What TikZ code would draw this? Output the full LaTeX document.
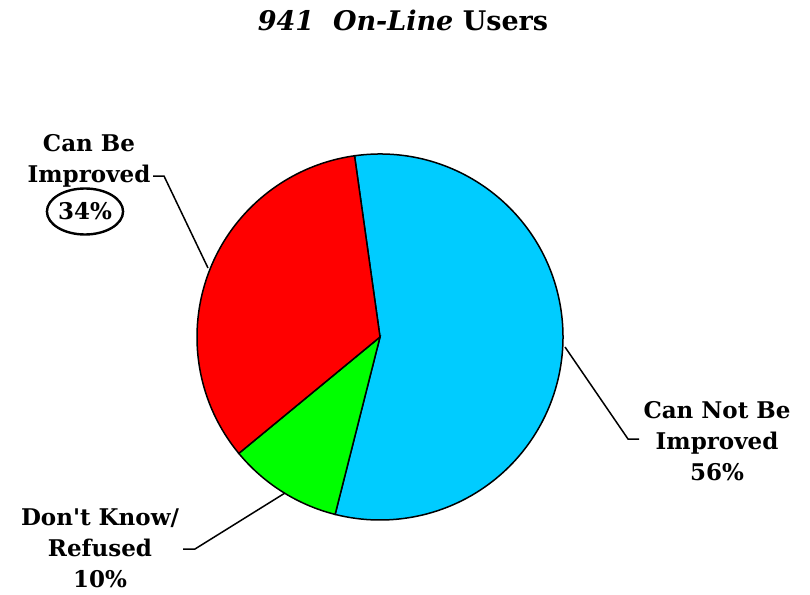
\documentclass[tikz,border=0pt]{standalone}
\usepackage{fontspec}
\setmainfont{DejaVu Serif}
\usetikzlibrary{shapes.geometric}
\definecolor{pieblue}{HTML}{00CCFF}
\definecolor{piered}{HTML}{FF0000}
\definecolor{piegreen}{HTML}{00FF00}
\begin{document}
\begin{tikzpicture}[x=1pt,y=-1pt,
  lbl/.style={align=center,font=\fontsize{23}{31}\selectfont\bfseries,inner sep=0pt},
  slice/.style={draw=black,line width=1.5pt},
  leader/.style={draw=black,line width=1.5pt}]
\useasboundingbox (0,0) rectangle (810,594);
\coordinate (c) at (380,337);
\def\R{183}
% slices
\filldraw[slice,fill=pieblue] (c) -- ++(-98:\R) arc[start angle=-98,end angle=104.2,radius=\R] -- cycle;
\filldraw[slice,fill=piegreen] (c) -- ++(104.2:\R) arc[start angle=104.2,end angle=140.5,radius=\R] -- cycle;
\filldraw[slice,fill=piered] (c) -- ++(140.5:\R) arc[start angle=140.5,end angle=262,radius=\R] -- cycle;
% title
\node[font=\fontsize{27}{30}\selectfont\bfseries,inner sep=0pt] (title) at (403,20) {\textit{941\ \ On-Line} Users};
% labels
\node[lbl] (cbi) at (89,161) {Can Be\\Improved};
\node[lbl,ellipse,draw,line width=2.4pt,inner sep=0pt,minimum width=75pt,minimum height=46pt] (p34) at (85,211.5) {34\%};
\node[lbl] (cnbi) at (717,441) {Can Not Be\\Improved\\56\%};
\node[lbl] (dkr) at (100,548.5) {Don\textquotesingle t Know/\\Refused\\10\%};
% leaders
\coordinate (s1) at (153,176);
\coordinate (k1) at (164,176);
\coordinate (e1) at (208,268);
\draw[leader] (s1) -- (k1) -- (e1);
\coordinate (s2) at (639,439);
\coordinate (k2) at (628,439);
\coordinate (e2) at (565,347);
\draw[leader] (s2) -- (k2) -- (e2);
\coordinate (s3) at (183,549);
\coordinate (k3) at (195,549);
\coordinate (e3) at (285,493);
\draw[leader] (s3) -- (k3) -- (e3);
\end{tikzpicture}
\end{document}
